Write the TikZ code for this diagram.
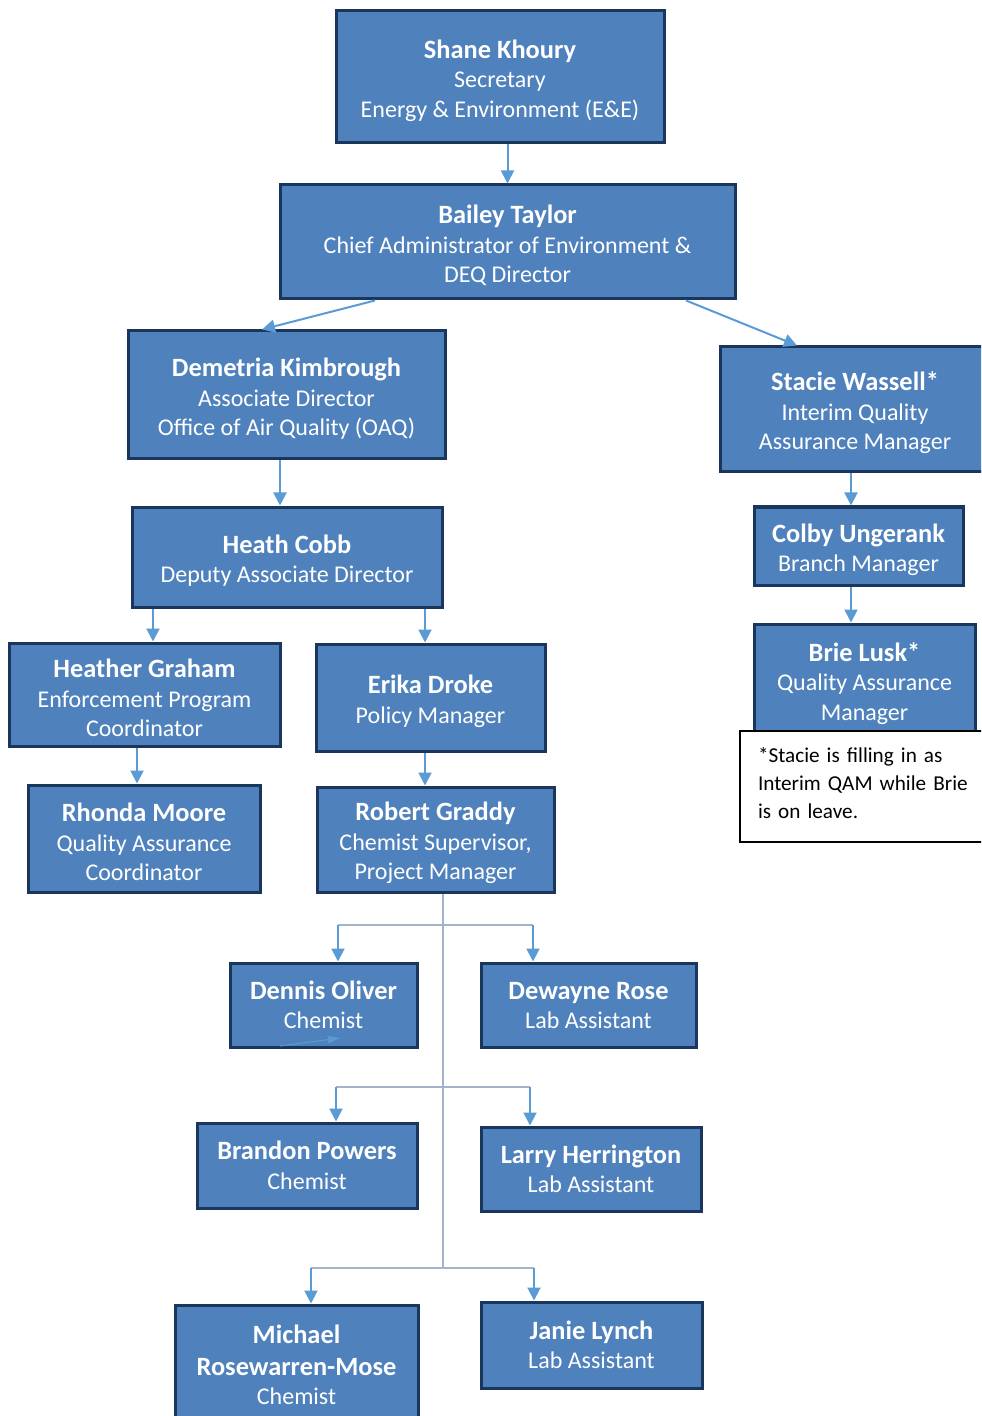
\documentclass[tikz,border=0pt]{standalone}
\usepackage{fontspec}
\setmainfont{Carlito}
\usetikzlibrary{arrows.meta,calc}
\definecolor{boxfill}{HTML}{4F81BD}
\definecolor{boxline}{HTML}{1B365D}
\definecolor{arrblue}{HTML}{5B9BD5}
\definecolor{trunkgray}{HTML}{A3B3C9}
\newcommand{\pname}[2][13pt]{{\fontsize{13.2}{14.75}\selectfont\bfseries\rule{0pt}{#1}#2}}
\newcommand{\pnamex}[1]{{\fontsize{13.2}{14.75}\selectfont\bfseries #1}}
\tikzset{
  box/.style 2 args={draw=boxline, line width=1.5pt, fill=boxfill, text=white,
    align=center, inner sep=2pt, minimum width=#1*0.5pt, minimum height=#2*0.5pt,
    font=\fontsize{12}{14.75}\selectfont},
  arr/.style={draw=arrblue, line width=1pt, -{Triangle[width=6.5pt,length=6.5pt]}},
  trunk/.style={draw=trunkgray, line width=0.6pt},
  notebox/.style={draw=black, line width=1pt, fill=white, align=left,
    anchor=north west, inner xsep=9pt, inner ysep=0pt, text width=118pt,
    minimum height=55.5pt, font=\fontsize{10.6}{14}\selectfont}
}
\begin{document}
\begin{tikzpicture}[x=0.5pt,y=-0.5pt]
\useasboundingbox (0,0) rectangle (981,1416);
\clip (0,0) rectangle (981,1416);

\node[box={328}{132}] (shane) at (500,77) {\pname{Shane Khoury}\\Secretary\\Energy \& Environment (E\&E)};
\node[box={455}{114}] (bailey) at (507.5,242) {\pname{Bailey Taylor}\\Chief Administrator of Environment \&\\DEQ Director};
\node[box={317}{128}] (demetria) at (286.5,395) {\pname{Demetria Kimbrough}\\Associate Director\\Office of Air Quality (OAQ)};
\node[box={270}{125}] (stacie) at (855,409.5) {\pname{Stacie Wassell*}\\Interim Quality\\Assurance Manager};
\node[box={310}{100}] (heath) at (287,557) {\pname{Heath Cobb}\\Deputy Associate Director};
\node[box={209}{78}] (colby) at (858.5,546) {\pname{Colby Ungerank}\\Branch Manager};
\node[box={221}{112}] (brie) at (864.5,680) {\pname{Brie Lusk*}\\Quality Assurance\\Manager};
\node[notebox] (note) at (739,730) {*Stacie is filling in as\\Interim QAM while Brie\\is on leave.\rule[-4pt]{0pt}{0pt}};
\node[box={271}{103}] (heather) at (144.5,694.5) {\pname{Heather Graham}\\Enforcement Program\\Coordinator};
\node[box={229}{107}] (erika) at (430.5,697.5) {\pname{Erika Droke}\\Policy Manager};
\node[box={232}{107}] (rhonda) at (144,838.5) {\pname{Rhonda Moore}\\Quality Assurance\\Coordinator};
\node[box={237}{105}] (robert) at (435.5,839.5) {\pname{Robert Graddy}\\Chemist Supervisor,\\Project Manager};
\node[box={187}{84}] (dennis) at (323.5,1005) {\pname[9pt]{Dennis Oliver}\\Chemist};
\node[box={215}{84}] (dewayne) at (588.5,1005) {\pname[9pt]{Dewayne Rose}\\Lab Assistant};
\node[box={220}{85}] (brandon) at (307,1165.5) {\pname[9pt]{Brandon Powers}\\Chemist};
\node[box={220}{84}] (larry) at (591,1169) {\pname[9pt]{Larry Herrington}\\Lab Assistant};
\node[box={243}{120}] (michael) at (296.5,1365) {\pnamex{Michael}\\[1pt]\pnamex{Rosewarren-Mose}\\Chemist};
\node[box={221}{86}] (janie) at (591.5,1345) {\pname[9pt]{Janie Lynch}\\Lab Assistant};

% top connectors
\draw[arr] (shane.south -| bailey.north) -- (bailey.north);
\draw[arr] ([xshift=-66.25pt]bailey.south) -- ([xshift=-12.25pt]demetria.north);
\draw[arr] ([xshift=89.25pt]bailey.south) -- ([xshift=-29pt]stacie.north);
\draw[arr] ([xshift=-3.5pt]heath.north |- demetria.south) -- ([xshift=-3.5pt]heath.north);
\draw[arr] ([xshift=4.25pt]heather.north |- heath.south) -- ([xshift=4.25pt]heather.north);
\draw[arr] ([xshift=-2.75pt]erika.north |- heath.south) -- ([xshift=-2.75pt]erika.north);
\draw[arr] ([xshift=-3.5pt]rhonda.north |- heather.south) -- ([xshift=-3.5pt]rhonda.north);
\draw[arr] ([xshift=-5.25pt]robert.north |- erika.south) -- ([xshift=-5.25pt]robert.north);
\draw[arr] ([xshift=-3.75pt]colby.north |- stacie.south) -- ([xshift=-3.75pt]colby.north);
\draw[arr] ([xshift=-6.75pt]brie.north |- colby.south) -- ([xshift=-6.75pt]brie.north);

% trunk from Robert Graddy
\coordinate (t1) at (443,925);
\coordinate (t2) at (443,1087);
\coordinate (t3) at (443,1268);
\draw[trunk] ([xshift=3.75pt]robert.south) -- (t3);
\draw[trunk] ([xshift=7.25pt]dennis.north |- t1) -- ([xshift=-27.75pt]dewayne.north |- t1);
\draw[trunk] ([xshift=14.5pt]brandon.north |- t2) -- ([xshift=-30.5pt]larry.north |- t2);
\draw[trunk] ([xshift=7.25pt]michael.north |- t3) -- ([xshift=-28.75pt]janie.north |- t3);
\draw[arr] ([xshift=7.25pt]dennis.north |- t1) -- ([xshift=7.25pt]dennis.north);
\draw[arr] ([xshift=-27.75pt]dewayne.north |- t1) -- ([xshift=-27.75pt]dewayne.north);
\draw[arr] ([xshift=14.5pt]brandon.north |- t2) -- ([xshift=14.5pt]brandon.north);
\draw[arr] ([xshift=-30.5pt]larry.north |- t2) -- ([xshift=-30.5pt]larry.north);
\draw[arr] ([xshift=7.25pt]michael.north |- t3) -- ([xshift=7.25pt]michael.north);
\draw[arr] ([xshift=-28.75pt]janie.north |- t3) -- ([xshift=-28.75pt]janie.north);

% small stray arrow inside Dennis Oliver box
\draw[draw=arrblue, line width=0.5pt, -{Triangle[width=3.5pt,length=6pt]}]
  ([shift={(-21.75pt,-20.5pt)}]dennis.center) -- ([shift={(8.25pt,-16.5pt)}]dennis.center);
\end{tikzpicture}
\end{document}
